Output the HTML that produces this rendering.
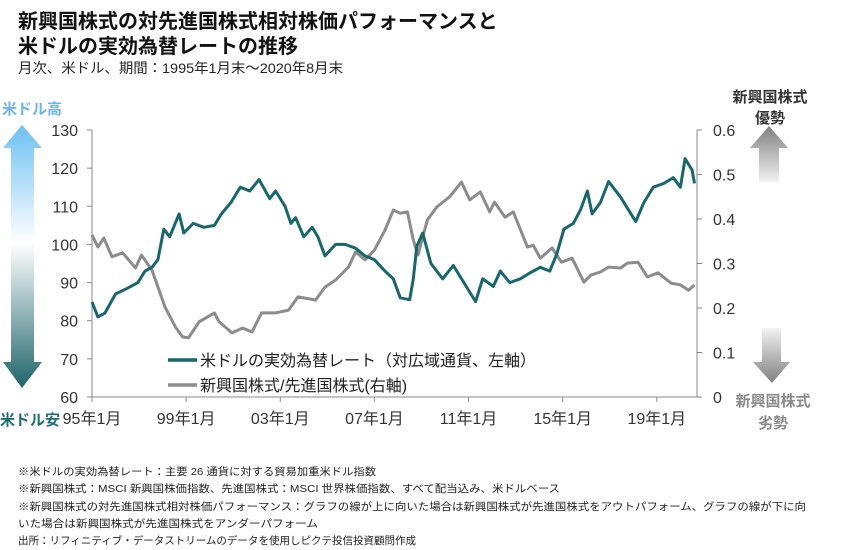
<!DOCTYPE html>
<html><head><meta charset="utf-8"><style>
html,body{margin:0;padding:0;background:#fff;}
svg{display:block;font-family:"Liberation Sans","Noto Sans CJK JP",sans-serif;}
</style></head><body>
<svg id="chart" width="863" height="550" viewBox="0 0 863 550" xmlns="http://www.w3.org/2000/svg">
<defs>
<linearGradient id="gl" x1="0" y1="0" x2="0" y2="1">
<stop offset="0" stop-color="#6cc0f3"/><stop offset="0.45" stop-color="#ffffff"/><stop offset="1" stop-color="#1f6469"/>
</linearGradient>
<linearGradient id="gu" x1="0" y1="0" x2="0" y2="1">
<stop offset="0" stop-color="#808080"/><stop offset="1" stop-color="#f2f2f2"/>
</linearGradient>
<linearGradient id="gd" x1="0" y1="0" x2="0" y2="1">
<stop offset="0" stop-color="#f2f2f2"/><stop offset="1" stop-color="#808080"/>
</linearGradient>
</defs>
<text x="18" y="28" font-size="20" font-weight="bold" fill="#111">新興国株式の対先進国株式相対株価パフォーマンスと</text>
<text x="18" y="53" font-size="20" font-weight="bold" fill="#111">米ドルの実効為替レートの推移</text>
<text x="18" y="73" font-size="14" fill="#222" textLength="325" lengthAdjust="spacingAndGlyphs">月次、米ドル、期間：1995年1月末～2020年8月末</text>

<text x="2" y="114" font-size="15" font-weight="bold" fill="#6cb4ee">米ドル高</text>
<polygon points="22,125 42,148 34,148 34,362 42,362 22,388 3,362 11,362 11,148 3,148" fill="url(#gl)"/>
<text x="0" y="425" font-size="15" font-weight="bold" fill="#1f6b70">米ドル安</text>

<text x="770" y="102" font-size="15" font-weight="bold" fill="#333" text-anchor="middle">新興国株式</text>
<text x="770" y="123" font-size="15" font-weight="bold" fill="#333" text-anchor="middle">優勢</text>
<polygon points="769,126 788,148 779,148 779,182 759,182 759,148 750,148" fill="url(#gu)"/>
<polygon points="762,328 781,328 781,362 790,362 772,383 753,362 762,362" fill="url(#gd)"/>
<text x="773" y="406" font-size="15" font-weight="bold" fill="#8a8a8a" text-anchor="middle">新興国株式</text>
<text x="773" y="428" font-size="15" font-weight="bold" fill="#8a8a8a" text-anchor="middle">劣勢</text>

<g id="axes"></g>
<g id="series"></g>

<g>
<line x1="168" y1="360" x2="197" y2="360" stroke="#17676b" stroke-width="3.5"/>
<text x="200" y="366" font-size="16" fill="#222">米ドルの実効為替レート（対広域通貨、左軸）</text>
<line x1="168" y1="385" x2="197" y2="385" stroke="#8c8c8c" stroke-width="3.5"/>
<text x="200" y="391" font-size="16" fill="#222">新興国株式/先進国株式(右軸)</text>
</g>

<g font-size="10.5" fill="#222">
<text x="18" y="475" textLength="358" lengthAdjust="spacingAndGlyphs">※米ドルの実効為替レート：主要 26 通貨に対する貿易加重米ドル指数</text>
<text x="18" y="492" textLength="542" lengthAdjust="spacingAndGlyphs">※新興国株式：MSCI 新興国株価指数、先進国株式：MSCI 世界株価指数、すべて配当込み、米ドルベース</text>
<text x="18" y="510" textLength="788" lengthAdjust="spacingAndGlyphs">※新興国株式の対先進国株式相対株価パフォーマンス：グラフの線が上に向いた場合は新興国株式が先進国株式をアウトパフォーム、グラフの線が下に向</text>
<text x="18" y="527" textLength="300" lengthAdjust="spacingAndGlyphs">いた場合は新興国株式が先進国株式をアンダーパフォーム</text>
<text x="18" y="544" textLength="398" lengthAdjust="spacingAndGlyphs">出所：リフィニティブ・データストリームのデータを使用しピクテ投信投資顧問作成</text>
</g>
</svg>
<script>
const usdDates=[1995.0,1995.25,1995.55,1996.0,1996.5,1996.95,1997.25,1997.55,1997.8,1998.05,1998.3,1998.7,1998.9,1999.3,1999.75,2000.2,2000.5,2000.9,2001.3,2001.7,2002.1,2002.55,2002.8,2003.2,2003.45,2003.65,2004.0,2004.35,2004.6,2004.9,2005.35,2005.75,2006.2,2006.6,2007.0,2007.45,2007.8,2008.1,2008.5,2008.65,2008.8,2009.05,2009.4,2009.9,2010.35,2010.8,2011.3,2011.6,2012.05,2012.35,2012.75,2013.2,2013.6,2014.05,2014.45,2014.75,2015.05,2015.45,2015.75,2016.05,2016.25,2016.6,2016.95,2017.45,2017.9,2018.1,2018.45,2018.85,2019.3,2019.7,2020.0,2020.2,2020.5,2020.6];
const usdValues=[84.9,81,82,87,88.5,90,93,94,96,104,102,108,103,105.5,104.5,105,108,111,115,114,117,112,114,110,105.5,107,102,104.5,102,97,100,100,99,97,96,93,91,86,85.5,91,99.5,103,95,91,94.5,90,85,91,89,93,90,91,92.5,94,93,97.5,104,105.5,109,114,108,111,116.5,112.5,108,106,111,115,116,117.5,115,122.5,119.5,116];
const emDates=[1995.0,1995.25,1995.5,1995.85,1996.3,1996.85,1997.1,1997.55,1997.85,1998.1,1998.55,1998.85,1999.1,1999.55,2000.2,2000.4,2000.95,2001.4,2001.8,2002.2,2002.8,2003.35,2003.75,2004.5,2004.9,2005.35,2005.9,2006.2,2006.6,2007.0,2007.45,2007.8,2008.1,2008.4,2008.65,2008.85,2009.25,2009.65,2010.2,2010.7,2011.05,2011.5,2011.9,2012.1,2012.55,2012.9,2013.5,2013.75,2014.05,2014.55,2014.95,2015.4,2015.9,2016.2,2016.6,2016.95,2017.45,2017.75,2018.2,2018.6,2019.05,2019.6,2020.0,2020.35,2020.6];
const emValues=[0.364,0.337,0.357,0.315,0.324,0.29,0.319,0.285,0.24,0.202,0.157,0.135,0.133,0.169,0.189,0.169,0.144,0.155,0.146,0.189,0.189,0.195,0.225,0.218,0.247,0.263,0.292,0.326,0.308,0.33,0.375,0.42,0.413,0.416,0.353,0.319,0.398,0.427,0.45,0.483,0.443,0.461,0.416,0.438,0.404,0.416,0.337,0.341,0.312,0.335,0.303,0.312,0.258,0.274,0.281,0.292,0.29,0.301,0.303,0.27,0.279,0.256,0.252,0.24,0.252];
const leftTicks=[60,70,80,90,100,110,120,130];
const rightTicks=[0,0.1,0.2,0.3,0.4,0.5,0.6];
const xTickYears=[1995,1999,2003,2007,2011,2015,2019];
const xTickLabels=["95年1月","99年1月","03年1月","07年1月","11年1月","15年1月","19年1月"];

const X0=92,X1=694.5,YT=130,YB=397;
const xs=y=>X0+(y-1995)*(X1-X0)/(2020.6-1995);
const yl=v=>YB-(v-60)*(YB-YT)/70;
const yr=v=>YB-v*(YB-YT)/0.6;
const NS="http://www.w3.org/2000/svg";
function mk(tag,attrs,parent){const e=document.createElementNS(NS,tag);for(const k in attrs)e.setAttribute(k,attrs[k]);parent.appendChild(e);return e;}
const ax=document.getElementById('axes'),se=document.getElementById('series');
const ac="#8a8a8a";
let l=mk('line',{x1:X0,y1:YT,x2:X0,y2:YB,stroke:ac,'stroke-width':1},ax);


l=mk('line',{x1:697,y1:YT,x2:697,y2:YB,stroke:ac,'stroke-width':1},ax);


l=mk('line',{x1:X0,y1:YB,x2:697,y2:YB,stroke:ac,'stroke-width':1},ax);


leftTicks.forEach(v=>{
  mk('line',{x1:X0-5,y1:yl(v),x2:X0,y2:yl(v),stroke:ac},ax);
  const t=mk('text',{x:78,y:yl(v)+6,'font-size':16,fill:'#333','text-anchor':'end'},ax);
  t.textContent=v;
  
  
});
rightTicks.forEach(v=>{
  mk('line',{x1:697,y1:yr(v),x2:702,y2:yr(v),stroke:ac},ax);
  const t=mk('text',{x:713,y:yr(v)+6,'font-size':16,fill:'#333'},ax);
  t.textContent=String(v);
  
  
});
xTickYears.forEach((yv,i)=>{
  const x=xs(yv);
  mk('line',{x1:x,y1:YB,x2:x,y2:YB+5,stroke:ac},ax);
  const t=mk('text',{x:x,y:424,'font-size':16,fill:'#333','text-anchor':'middle'},ax);
  t.textContent=xTickLabels[i];
  
  
});
function path(dates,vals,yf,color,name){
  const d=dates.map((dt,i)=>(i?'L':'M')+xs(dt).toFixed(1)+','+yf(vals[i]).toFixed(1)).join('');
  const p=mk('path',{d:d,fill:'none',stroke:color,'stroke-width':3,'stroke-linejoin':'round'},se);
  
  
}
path(emDates,emValues,yr,'#8c8c8c','em-relative-line');
path(usdDates,usdValues,yl,'#17676b','usd-effective-rate-line');
</script>
</body></html>
